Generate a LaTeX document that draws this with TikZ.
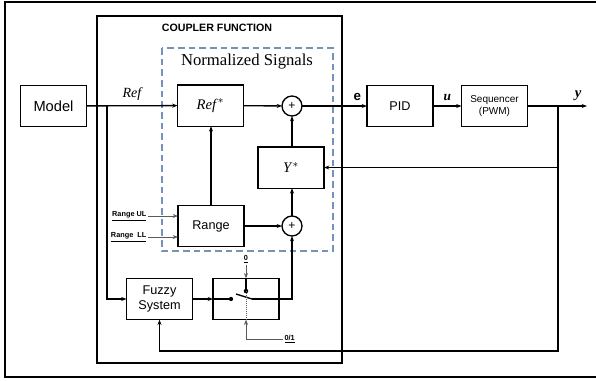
\documentclass[tikz,border=0pt]{standalone}
\usepackage{fontspec}
\setmainfont{Liberation Serif}
\setsansfont{Liberation Sans}
\usetikzlibrary{arrows.meta}
\definecolor{azulgris}{RGB}{120,145,185}
\definecolor{grisaux}{RGB}{90,90,90}
\tikzset{
  bloque/.style={draw,line width=1pt,minimum width=49.5pt,minimum height=31pt,
    inner sep=1pt,outer sep=0pt,align=center,font=\sffamily\fontsize{9.5}{11}\selectfont},
  sumador/.style={draw,circle,line width=1pt,minimum size=15pt,inner sep=0pt,
    outer sep=0pt,font=\sffamily\fontsize{9}{9}\selectfont},
  senal/.style={line width=1pt,->},
  auxiliar/.style={grisaux,line width=0.5pt},
  etiquetita/.style={font=\sffamily\bfseries\fontsize{5.5}{6}\selectfont,inner sep=1pt},
}
\begin{document}
\begin{tikzpicture}[x=0.75pt,y=-0.75pt,>={Stealth[length=4pt,width=3pt]}]
  \useasboundingbox (0,0) rectangle (596,380);
  % marco
  \draw[line width=2pt] (598,2) -- (5,2) -- (5,377) -- (598,377);
  % funcion de acople
  \draw[line width=1pt] (97,16) rectangle (342,363);
  \node[font=\sffamily\bfseries\fontsize{8}{9}\selectfont] (titulo) at (217,28) {COUPLER FUNCTION};
  \draw[azulgris,line width=0.9pt,dash pattern=on 5pt off 3pt] (162,48) rectangle (333,251);
  \node[font=\fontsize{12.5}{14}\selectfont] (normal) at (247,62) {Normalized Signals};

  % bloques
  \node[bloque,font=\sffamily\fontsize{11}{13}\selectfont] (modelo) at (53.5,106) {Model};
  \node[bloque,font=\fontsize{11}{12}\selectfont] (refn) at (210.5,105.5) {\textit{Ref}$^{*}$};
  \node[sumador] (suma1) at (292,106) {+};
  \node[bloque,font=\fontsize{11}{12}\selectfont] (yn) at (291,167.5) {\textit{Y}$^{*}$};
  \node[bloque] (rango) at (211,226) {Range};
  \node[sumador] (suma2) at (292,226) {+};
  \node[bloque] (difuso) at (159.5,299) {Fuzzy\\System};
  \node[bloque] (llave) at (246,299) {};
  \node[bloque] (pid) at (400,106) {PID};
  \node[bloque,font=\sffamily\fontsize{7.5}{9.5}\selectfont] (secuenciador) at (494.5,106) {Sequencer\\(PWM)};

  \coordinate (bifurca) at (107,106);
  \coordinate (rama) at (558,106);
  \coordinate (salida) at (587,106);
  \coordinate (retorno) at (558,351);
  \coordinate (pivote) at (231,299);
  \coordinate (hoja) at (236,294);
  \coordinate (cuchilla) at (252,299);
  \coordinate (contacto) at (246,291);

  % lazo principal
  \draw[senal] (modelo) -- (refn) node[midway,above,font=\fontsize{10.5}{12}\selectfont\itshape] {Ref};
  \draw[senal] (bifurca) |- (difuso.west);
  \draw[senal] (refn) -- (suma1);
  \draw[senal] (suma1) -- (pid) node[pos=0.85,above,font=\sffamily\bfseries\fontsize{10}{12}\selectfont] {e};
  \draw[senal] (pid) -- (secuenciador) node[midway,above,font=\bfseries\itshape\fontsize{10}{12}\selectfont] {u};
  \draw[senal] (secuenciador) -- (salida) node[pos=0.85,above,font=\bfseries\itshape\fontsize{11}{12}\selectfont] {y};
  \draw[senal] (rama) |- (yn.east);
  \draw[senal] (rama) -- (retorno) -| (difuso.south);

  % senales normalizadas
  \draw[senal] (rango.north) -- (rango.north |- refn.south);
  \draw[senal] (suma1 |- yn.north) -- (suma1.south);
  \draw[senal] (rango) -- (suma2);
  \draw[senal] (suma2.north) -- (suma2 |- yn.south);

  \node[etiquetita,anchor=east] (rul) at (148,216) {\underline{Range UL}};
  \node[etiquetita,anchor=east] (rll) at (148,237) {\underline{Range\ \ LL}};
  \draw[auxiliar,->] (rul.east) -- (rul.east -| rango.west);
  \draw[auxiliar,->] (rll.east) -- (rll.east -| rango.west);

  % conmutador
  \draw[senal] (difuso) -- (llave);
  \draw[line width=1pt] (llave.west) -- (pivote);
  \fill (pivote) circle (1.6pt);
  \draw[line width=1pt] (hoja) -- (cuchilla);
  \draw[senal] (cuchilla) -| (suma2.south);
  \draw[line width=1.5pt] (llave.north) -- (contacto);
  \fill (contacto) circle (1.7pt);
  \draw[auxiliar,densely dotted] (contacto) -- (llave.south);
  \node[etiquetita] (cero) at (246,259) {\underline{0}};
  \draw[auxiliar,->] (cero) -- (llave.north);
  \node[etiquetita,anchor=west] (unocero) at (283,339) {\underline{0/1}};
  \draw[auxiliar,->] (unocero.west) -| (llave.south);
\end{tikzpicture}
\end{document}
